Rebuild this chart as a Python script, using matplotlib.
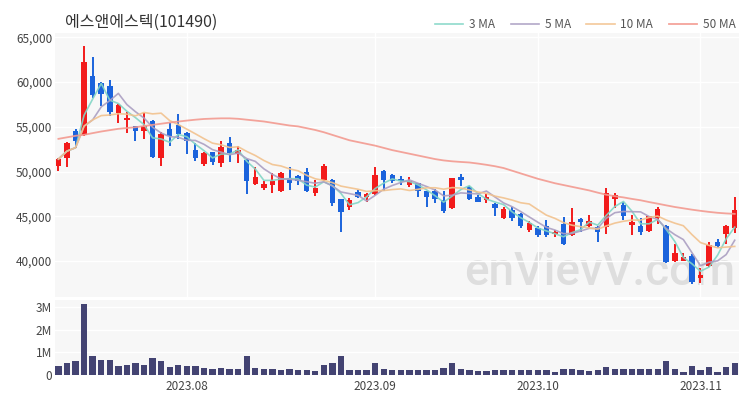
import matplotlib
matplotlib.use("Agg")
import matplotlib.pyplot as plt
from matplotlib.ticker import FixedLocator, FuncFormatter
import numpy as np
import pandas as pd

plt.rcParams['font.family'] = ['Noto Sans CJK KR', 'DejaVu Sans']

title = "에스앤에스텍(101490)"
watermark = "enVievV.com"

# 거래일 (한국 휴장일 제외)
start_day = "2023-07-11"
end_day = "2023-11-07"
holidays = ["2023-08-15", "2023-09-28", "2023-09-29", "2023-10-02", "2023-10-03", "2023-10-09"]

opens = [50650, 51500, 54590, 54110, 60700, 59950, 59580, 56530, 55780, 55110,
         54590, 55670, 51500, 54740, 55220, 54300, 52430, 50870, 52170, 50940,
         53250, 51950, 51320, 48640, 48150, 48520, 47890, 49270, 49530, 50010,
         47590, 49080, 49080, 46920, 46030, 47670, 47220, 47480, 50120, 49640,
         49160, 48520, 48710, 47850, 47890, 46850, 45920, 49450, 48260, 47220,
         46850, 46400, 44800, 45730, 45280, 43500, 43680, 43940, 43050, 44170,
         42940, 44690, 43940, 43790, 43790, 46960, 46290, 44050, 43940, 43420,
         44800, 43940, 39960, 40070, 40520, 38100, 39470, 42190, 43050, 43680]
highs = [51500, 53360, 54740, 63980, 62750, 60050, 60250, 57570, 56710, 55150,
         56530, 55780, 54480, 55410, 56420, 54480, 53180, 52240, 52240, 53440,
         53850, 52810, 51390, 50500, 48900, 49830, 50010, 50500, 49640, 50390,
         49080, 50870, 49160, 46920, 47030, 47960, 47590, 50500, 50200, 49750,
         49530, 49450, 48780, 47890, 48040, 47780, 49340, 49750, 48410, 47410,
         47480, 46550, 46030, 46030, 45430, 44430, 43870, 44540, 43500, 44910,
         45920, 44800, 45170, 43870, 48150, 47590, 46660, 45170, 44800, 45060,
         46030, 44000, 41930, 40960, 40810, 39210, 42190, 42450, 44020, 47220]
lows = [50050, 50570, 52620, 54000, 58200, 57350, 56160, 55410, 54290, 53440,
        53620, 51500, 50640, 52880, 53610, 52010, 51130, 50640, 50760, 50500,
        51020, 50940, 47480, 48520, 47960, 47590, 47670, 47960, 48520, 47700,
        47290, 48900, 46180, 43200, 45660, 47030, 46660, 47410, 47780, 48710,
        48520, 48260, 47150, 46030, 46550, 45360, 45840, 48410, 46850, 46590,
        46550, 44990, 44730, 44430, 43680, 43310, 42750, 42750, 42750, 41820,
        42830, 43310, 43680, 42190, 43050, 45920, 44610, 42940, 42940, 43310,
        44170, 39800, 39880, 39960, 37460, 37610, 39400, 41450, 41930, 43120]
closes = [51400, 53180, 53440, 62300, 58580, 58650, 56710, 57460, 56040, 54590,
          55110, 51610, 54220, 54000, 54220, 53470, 51500, 52060, 51020, 52800,
          52060, 52430, 48970, 49450, 48640, 48970, 49900, 48780, 48900, 47780,
          48150, 50680, 46480, 45540, 46850, 47220, 47480, 49640, 49010, 48900,
          48900, 48900, 47780, 47220, 46920, 45620, 49270, 49080, 46920, 46660,
          47220, 45920, 45800, 44800, 43940, 44240, 42940, 42940, 43310, 41930,
          44320, 44320, 44430, 43310, 47590, 47410, 44990, 44320, 43200, 44990,
          45800, 39850, 40960, 40440, 37720, 38470, 41820, 41710, 43940, 45730]
# 거래량 (백만 주)
volumes = [0.40, 0.54, 0.60, 3.13, 0.84, 0.66, 0.66, 0.41, 0.45, 0.51,
           0.43, 0.75, 0.62, 0.37, 0.45, 0.41, 0.38, 0.31, 0.25, 0.29,
           0.28, 0.25, 0.82, 0.32, 0.26, 0.28, 0.24, 0.28, 0.21, 0.24,
           0.18, 0.43, 0.51, 0.85, 0.22, 0.21, 0.22, 0.54, 0.26, 0.22,
           0.22, 0.22, 0.22, 0.22, 0.22, 0.32, 0.51, 0.25, 0.22, 0.16,
           0.16, 0.22, 0.21, 0.21, 0.22, 0.22, 0.21, 0.22, 0.15, 0.25,
           0.28, 0.22, 0.19, 0.22, 0.37, 0.28, 0.26, 0.26, 0.25, 0.25,
           0.25, 0.62, 0.28, 0.15, 0.38, 0.22, 0.34, 0.15, 0.34, 0.54]
# 50일선은 화면 앞쪽 데이터가 없어서 그림에서 읽은 값
ma50 = [53660, 53830, 54000, 54110, 54300, 54480, 54630, 54780, 54870, 54960,
        55090, 55220, 55350, 55480, 55590, 55700, 55800, 55880, 55920, 55950,
        55950, 55900, 55800, 55700, 55600, 55450, 55300, 55150, 55050, 54850,
        54650, 54400, 54100, 53800, 53500, 53300, 53100, 52900, 52650, 52400,
        52200, 52000, 51800, 51600, 51400, 51250, 51150, 51080, 51020, 50900,
        50760, 50600, 50400, 50100, 49800, 49500, 49200, 48950, 48700, 48500,
        48300, 48100, 47900, 47650, 47420, 47250, 47120, 46950, 46800, 46600,
        46420, 46230, 46050, 45900, 45750, 45620, 45500, 45400, 45330, 45280]

ma_windows = [3, 5, 10]
ma_colors = {"3 MA": "#82d6c6", "5 MA": "#ab9fc2", "10 MA": "#f2c28e", "50 MA": "#f39a90"}
up_color = "#f21b1b"
down_color = "#1b63dc"
vol_color = "#434372"
bg_color = "#f7f7f7"
text_color = "#444444"


def main():
    days = pd.bdate_range(start_day, end_day, freq="C", holidays=holidays)
    x = np.arange(len(days))
    o = np.array(opens, dtype=float)
    c = np.array(closes, dtype=float)
    up = c >= o
    colors = np.where(up, up_color, down_color)

    fig = plt.figure(figsize=(7.5, 4), dpi=100)
    ax = fig.add_axes([55 / 750, 1 - 296.5 / 400, 684 / 750, 263.2 / 400])
    axv = fig.add_axes([55 / 750, 1 - 376 / 400, 684 / 750, 76 / 400], sharex=ax)

    for a in (ax, axv):
        a.set_facecolor(bg_color)
        for s in a.spines.values():
            s.set_visible(False)
        a.tick_params(length=0, colors=text_color, labelsize=8.5)
        a.grid(True, color="white", linewidth=1.0)
        a.set_axisbelow(True)

    # 워터마크
    ax.text(0.994, 0.045, watermark, transform=ax.transAxes, ha="right", va="baseline",
            fontsize=33, color="#dedede", family=["Roboto", "DejaVu Sans"],
            fontweight="medium", zorder=0.5)

    # 캔들
    ax.vlines(x, lows, highs, colors=colors, linewidth=1.4, zorder=2)
    body = np.maximum(np.abs(c - o), 60)
    ax.bar(x, body, bottom=np.minimum(o, c), width=0.64, color=colors, zorder=3)

    # 이동평균선
    close_s = pd.Series(c)
    for n in ma_windows:
        label = f"{n} MA"
        ax.plot(x, close_s.rolling(n, min_periods=1).mean(), color=ma_colors[label],
                linewidth=1.2, alpha=0.9, label=label, zorder=4)
    ax.plot(x, ma50, color=ma_colors["50 MA"], linewidth=1.3, alpha=0.9, label="50 MA", zorder=4)

    ax.set_xlim(-0.4, len(x) - 0.5)
    ax.set_ylim(36050, 65450)
    ax.yaxis.set_major_locator(FixedLocator([40000, 45000, 50000, 55000, 60000, 65000]))
    ax.yaxis.set_major_formatter(FuncFormatter(lambda v, p: f"{v:,.0f}"))
    ax.tick_params(axis="y", pad=2)
    ax.tick_params(axis="x", labelbottom=False)

    # 세로 격자는 16봉 간격
    ax.xaxis.set_major_locator(FixedLocator([16, 32, 48, 64]))

    leg = ax.legend(loc="center right", bbox_to_anchor=(0.995, 1.032), ncol=4, frameon=False,
                    fontsize=8.5, handlelength=2.4, handletextpad=0.5, columnspacing=1.3,
                    borderaxespad=0, borderpad=0)
    for t in leg.get_texts():
        t.set_color("#555555")

    # 거래량
    axv.bar(x, np.array(volumes) * 1e6, width=0.74, color=vol_color, zorder=3)
    axv.set_ylim(-0.04e6, 3.3e6)
    axv.yaxis.set_major_locator(FixedLocator([0, 1e6, 2e6, 3e6]))
    axv.yaxis.set_major_formatter(FuncFormatter(lambda v, p: "0" if v == 0 else f"{v / 1e6:.0f}M"))
    axv.tick_params(axis="y", pad=2)

    # 월 첫 거래일에 날짜 라벨
    month_start = [i for i in range(1, len(days)) if days[i].month != days[i - 1].month]
    axv.set_xticks(month_start, [days[i].strftime("%Y.%m") for i in month_start])
    axv.tick_params(axis="x", pad=3)
    axv.grid(False, axis="x")

    fig.text(65 / 750, 1 - 22 / 400, title, fontsize=11.5, color="#333333", va="center")

    fig.savefig("out.png", dpi=100, facecolor="white")


if __name__ == "__main__":
    main()
